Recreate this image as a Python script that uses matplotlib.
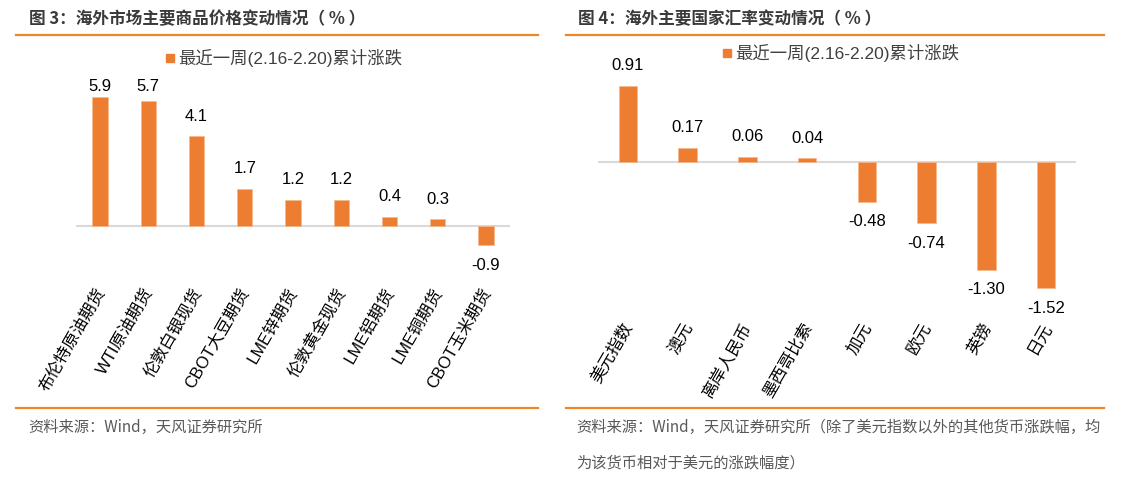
import matplotlib
matplotlib.use("Agg")
import matplotlib.pyplot as plt
from matplotlib.patches import Rectangle
from matplotlib.lines import Line2D
import matplotlib.transforms as mtransforms

# ---------------- data ----------------
left_title = "图 3：海外市场主要商品价格变动情况（ % ）"
right_title = "图 4：海外主要国家汇率变动情况（ % ）"
series_name = "最近一周(2.16-2.20)累计涨跌"

commodities = ["布伦特原油期货", "WTI原油期货", "伦敦白银现货", "CBOT大豆期货",
               "LME锌期货", "伦敦黄金现货", "LME铝期货", "LME铜期货", "CBOT玉米期货"]
commodity_values = [5.9, 5.7, 4.1, 1.7, 1.2, 1.2, 0.4, 0.3, -0.9]
commodity_labels = ["5.9", "5.7", "4.1", "1.7", "1.2", "1.2", "0.4", "0.3", "-0.9"]

currencies = ["美元指数", "澳元", "离岸人民币", "墨西哥比索", "加元", "欧元", "英镑", "日元"]
currency_values = [0.91, 0.17, 0.06, 0.04, -0.48, -0.74, -1.30, -1.52]
currency_labels = ["0.91", "0.17", "0.06", "0.04", "-0.48", "-0.74", "-1.30", "-1.52"]

left_source = "资料来源：Wind，天风证券研究所"
right_source_1 = "资料来源：Wind，天风证券研究所（除了美元指数以外的其他货币涨跌幅，均"
right_source_2 = "为该货币相对于美元的涨跌幅度）"

# ---------------- style ----------------
W, H = 1124, 480
BAR = "#ED7D31"
ORANGE = "#F0862A"
FAM = ["Liberation Sans", "Noto Sans CJK SC", "DejaVu Sans"]
CJK = ["Noto Sans CJK SC", "DejaVu Sans"]
plt.rcParams["font.family"] = FAM

fig = plt.figure(figsize=(W / 100, H / 100), dpi=100)


def fx(x):
    return x / W


def fy(y):
    return 1 - y / H


def make_axes(x0, x1, y_top, y_bot, zero_px, px_per_unit):
    ax = fig.add_axes([fx(x0), fy(y_bot), fx(x1 - x0), (y_bot - y_top) / H])
    ymax = (zero_px - y_top) / px_per_unit
    ymin = -(y_bot - zero_px) / px_per_unit
    ax.set_ylim(ymin, ymax)
    ax.set_axis_off()
    return ax


def draw_panel(ax, cats, vals, labels, width, label_anchor_px, px_per_unit,
               cap_px=None, zero_px=None):
    n = len(cats)
    x = list(range(n))
    ax.set_xlim(-0.5, n - 0.5)
    ax.bar(x, vals, width=width, color=BAR, edgecolor="#F6B98E", linewidth=0.5, zorder=3)
    ax.axhline(0, color="#D9D9D9", lw=1.5, zorder=2)
    off = 20.0 / px_per_unit
    for xi, v, s in zip(x, vals, labels):
        yl = v + off if v >= 0 else v - off
        if cap_px is not None:
            ycap = (zero_px - cap_px) / px_per_unit
            yl = min(yl, ycap)
        ax.text(xi, yl, s, ha="center", va="center", fontsize=12,
                color="#000000", family=FAM, zorder=4)
    trans = mtransforms.blended_transform_factory(ax.transData, fig.transFigure)
    for xi, c in zip(x, cats):
        ax.text(xi + 0.02, fy(label_anchor_px), c, transform=trans, rotation=60,
                rotation_mode="anchor", ha="right", va="center", fontsize=12,
                color="#000000", family=FAM, clip_on=False)


# left panel
l_scale = 21.8
l_zero = 225.7
axL = make_axes(76, 510, 70, 260, l_zero, l_scale)
draw_panel(axL, commodities, commodity_values, commodity_labels, 0.32, 289,
           l_scale, cap_px=87, zero_px=l_zero)

# right panel
r_scale = 83.2
r_zero = 161.7
axR = make_axes(598, 1076, 70, 300, r_zero, r_scale)
draw_panel(axR, currencies, currency_values, currency_labels, 0.31, 324, r_scale)

# header / footer lines
for (xa, xb) in [(16, 538), (566, 1104)]:
    for yy in (34.7, 407.7):
        fig.add_artist(Line2D([fx(xa), fx(xb)], [fy(yy), fy(yy)], color=ORANGE,
                              lw=1.6, transform=fig.transFigure))

# titles
fig.text(fx(29), fy(19), left_title, fontsize=12, fontweight="bold",
         color="#3A3A3A", va="center", ha="left", family=CJK)
fig.text(fx(578), fy(19), right_title, fontsize=12, fontweight="bold",
         color="#3A3A3A", va="center", ha="left", family=CJK)

# legends
for (sx, sy, tx) in [(166, 58, 178), (723, 53, 735)]:
    fig.add_artist(Rectangle((fx(sx), fy(sy + 4)), 8 / W, 8 / H, color=BAR,
                             transform=fig.transFigure))
    fig.text(fx(tx), fy(sy), series_name, fontsize=12.5, color="#404040",
             va="center", ha="left", family=FAM)

# sources
fig.text(fx(28), fy(427), left_source, fontsize=11, color="#595959",
         va="center", ha="left", family=CJK)
fig.text(fx(576), fy(427), right_source_1, fontsize=11, color="#595959",
         va="center", ha="left", family=CJK)
fig.text(fx(576), fy(463), right_source_2, fontsize=11, color="#595959",
         va="center", ha="left", family=CJK)

fig.savefig("out.png", dpi=100, facecolor="white")
